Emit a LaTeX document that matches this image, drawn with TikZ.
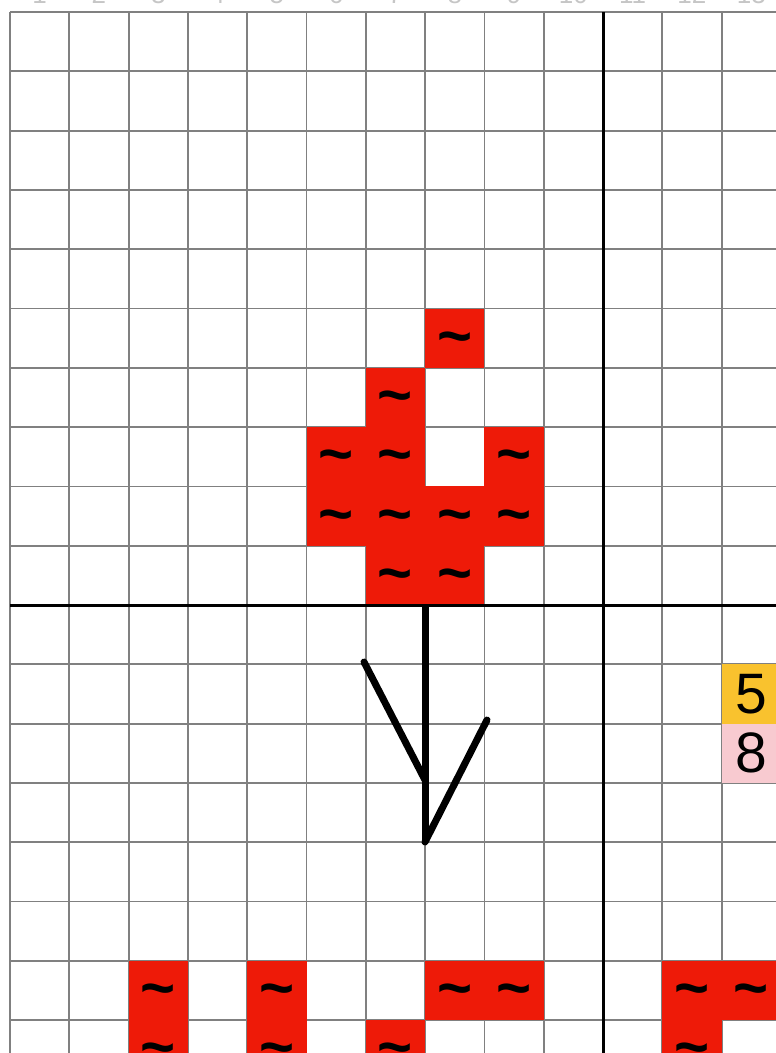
\documentclass[tikz,border=0pt]{standalone}
\usepackage{fontspec}
\setmainfont{Liberation Sans}
\definecolor{stitchred}{RGB}{238,26,8}
\definecolor{gridgray}{RGB}{128,128,128}
\definecolor{goldcell}{RGB}{249,194,46}
\definecolor{pinkcell}{RGB}{248,202,208}
\tikzset{
  gridline/.style={draw=gridgray, line width=1.8pt},
  majorline/.style={draw=black, line width=3pt},
  redcell/.style={fill=stitchred, draw=none, minimum size=59.3pt, inner sep=0pt,
    font=\fontsize{60}{60}\selectfont\bfseries, text height=36pt, text depth=0pt},
  numcell/.style={draw=none, minimum size=59.3pt, inner sep=0pt,
    font=\fontsize{57}{57}\selectfont},
  colnum/.style={anchor=base, text=gray!45, font=\fontsize{26}{26}\selectfont},
  backstitch/.style={draw=black, line width=7pt, line cap=round}
}
\begin{document}
\begin{tikzpicture}[x=1pt,y=-1pt]
\useasboundingbox (0,0) rectangle (776,1053);
\clip (0,0) rectangle (776,1053);
\fill[white] (0,0) rectangle (776,1053);
% column numbers (cut off at the top)
\foreach \i in {1,...,13}
  \node[colnum] (n\i) at ({10+59.3*(\i-0.5)},3) {\i};
% thin grid
\foreach \k in {0,...,13}
  \draw[gridline] ({10+59.3*\k},12) -- ({10+59.3*\k},1070);
\foreach \k in {0,...,17}
  \draw[gridline] (10,{12+59.3*\k}) -- (800,{12+59.3*\k});
% stitched cells
\foreach \c/\r in {7/5,6/6,5/7,6/7,8/7,5/8,6/8,7/8,8/8,6/9,7/9,
                   2/16,4/16,7/16,8/16,11/16,12/16,2/17,4/17,6/17,11/17}
  \node[redcell] (s\c x\r) at ({10+59.3*(\c+0.5)},{12+59.3*(\r+0.5)}) {\textasciitilde};
% numbered cells
\node[numcell, fill=goldcell] (k5) at ({10+59.3*12.5},{12+59.3*11.5}) {5};
\node[numcell, fill=pinkcell] (k8) at ({10+59.3*12.5},{12+59.3*12.5}) {8};
% major lines
\draw[majorline] (603,12) -- (603,1070);
\draw[majorline] (10,605) -- (800,605);
% backstitch
\coordinate (stemtop) at (425,605);
\coordinate (stembot) at (425,842);
\coordinate (lefttop) at (364,662);
\coordinate (leftbot) at (425,780);
\coordinate (righttop) at (487,720);
\draw[backstitch, line cap=butt] (stemtop) -- (stembot);
\draw[backstitch] (lefttop) -- (leftbot);
\draw[backstitch] (righttop) -- (stembot);
\end{tikzpicture}
\end{document}
